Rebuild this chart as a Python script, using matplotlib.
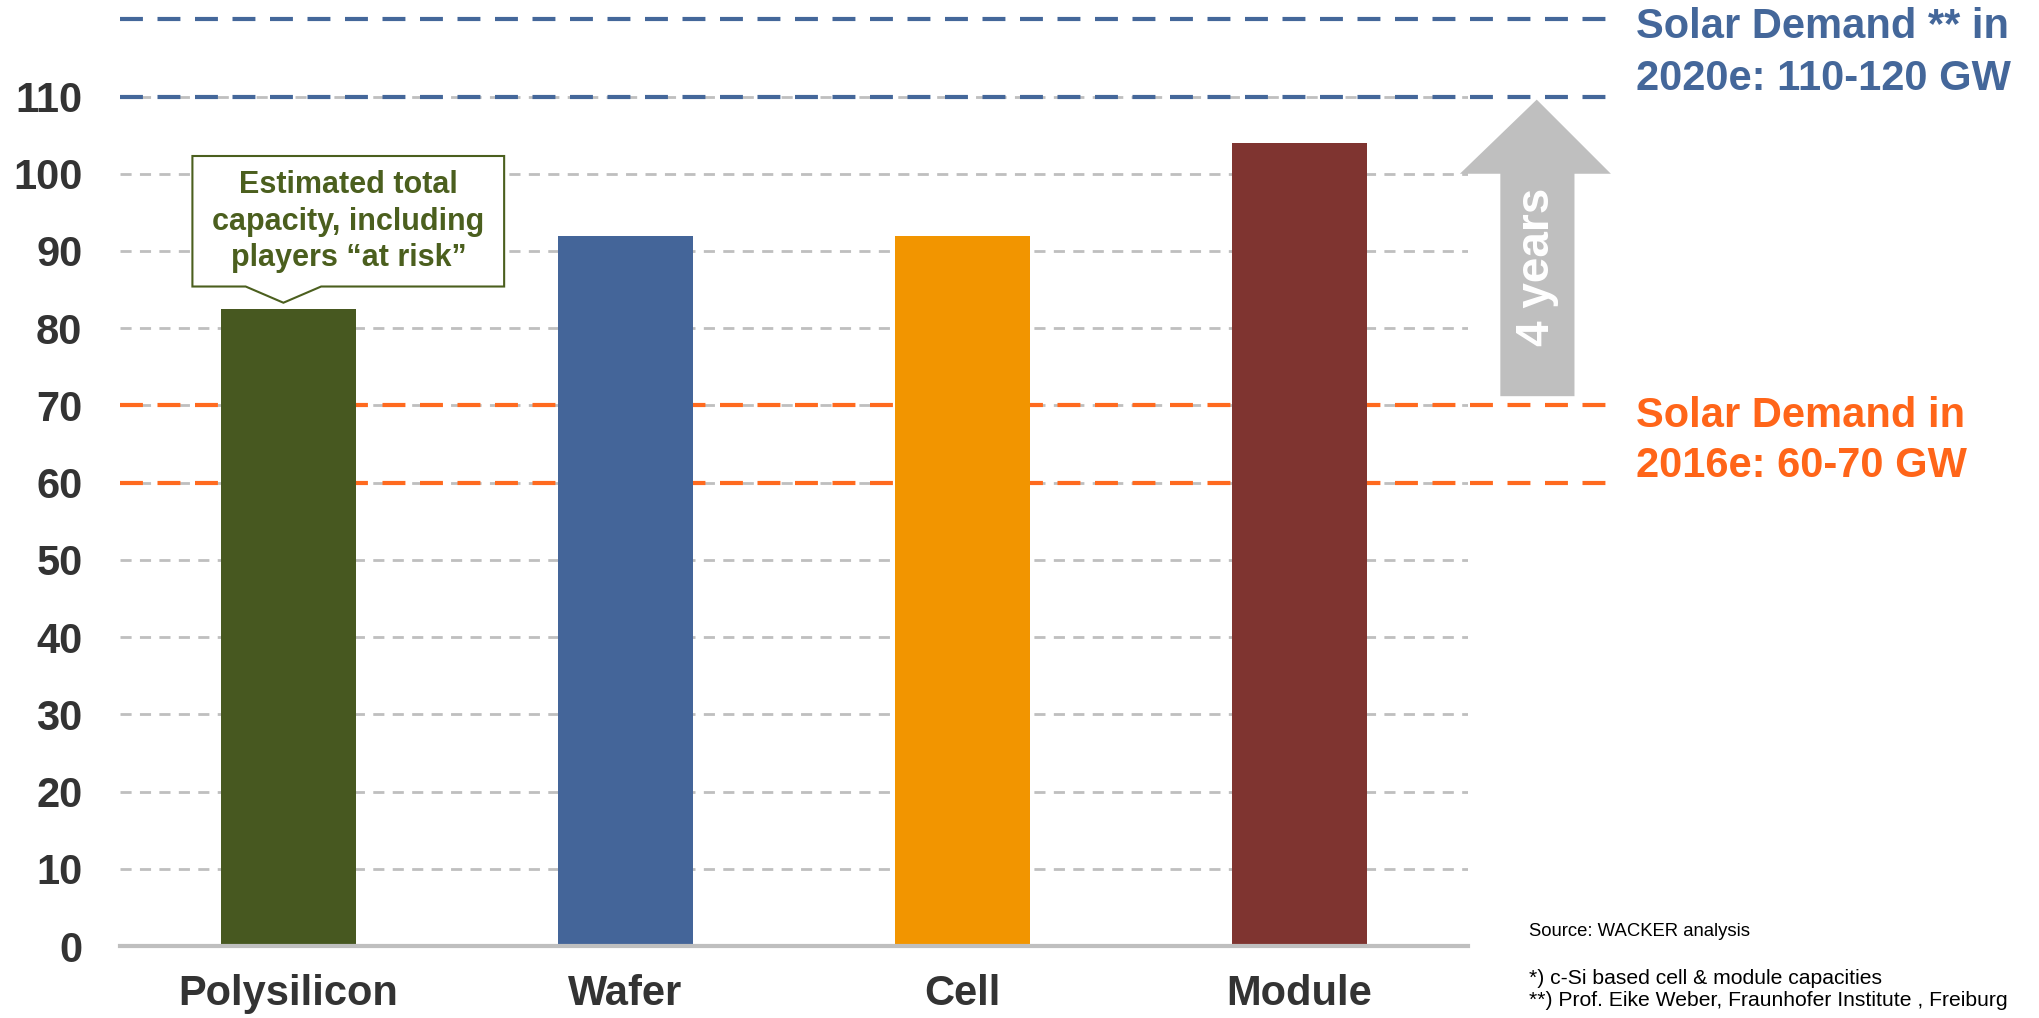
import matplotlib.pyplot as plt
from matplotlib.patches import Polygon

# data
stages = ['Polysilicon', 'Wafer', 'Cell', 'Module']
capacity = [82.5, 92, 92, 104]
bar_colors = ['#475820', '#446599', '#F29500', '#7F3430']
yticks = [0, 10, 20, 30, 40, 50, 60, 70, 80, 90, 100, 110]
demand_2016 = [60, 70]
demand_2020 = [110, 120]

FONT = ['Liberation Sans', 'DejaVu Sans']
plt.rcParams['font.family'] = FONT

fig = plt.figure(figsize=(20.4, 10.18), dpi=100)
ax = fig.add_axes([0.0588, 0.0707, 0.6608, 0.9293])

x = range(len(stages))
ax.bar(x, capacity, width=0.40, color=bar_colors, zorder=3)

ax.set_xlim(-0.5, 3.5)
ax.set_ylim(0, 122.5)
ax.set_yticks(yticks)
ax.set_xticks(list(x))
ax.set_xticklabels(stages)
ax.tick_params(axis='both', length=0, labelsize=30, colors='#333333')
ax.tick_params(axis='y', pad=27)
ax.tick_params(axis='x', pad=20)
for lab in ax.get_xticklabels() + ax.get_yticklabels():
    lab.set_fontweight('bold')

ax.grid(axis='y', color='#BFBFBF', linestyle=(0, (4, 3)), linewidth=2, zorder=0)
for s in ['top', 'right', 'left']:
    ax.spines[s].set_visible(False)
ax.spines['bottom'].set_color('#BFBFBF')
ax.spines['bottom'].set_linewidth(3)
ax.spines['bottom'].set_zorder(4)

# demand lines, run past the plot area
tr = ax.get_yaxis_transform()
for v in demand_2016:
    ax.plot([0, 1.108], [v, v], transform=tr, color='#FF6A1F', lw=3,
            linestyle=(0, (5.5, 3.5)), clip_on=False, zorder=2)
for v in demand_2020:
    ax.plot([0, 1.108], [v, v], transform=tr, color='#44679A', lw=3,
            linestyle=(0, (5.5, 3.5)), clip_on=False, zorder=2)

for txt, yv in [('Solar Demand ** in', 117.6), ('2020e: 110-120 GW', 110.9)]:
    ax.text(1.125, yv, txt, transform=tr, color='#44679A', fontsize=30,
            fontweight='bold', va='baseline', ha='left')
for txt, yv in [('Solar Demand in', 67.2), ('2016e: 60-70 GW', 60.75)]:
    ax.text(1.125, yv, txt, transform=tr, color='#FF6519', fontsize=30,
            fontweight='bold', va='baseline', ha='left')

# "4 years" arrow
arrow = Polygon([(1.024, 71.2), (1.079, 71.2), (1.079, 100), (1.106, 100),
                 (1.051, 109.6), (0.994, 100), (1.024, 100)],
                closed=True, transform=tr, facecolor='#BFBFBF',
                edgecolor='none', clip_on=False, zorder=3)
ax.add_patch(arrow)
ax.text(1.051, 88, '4 years', transform=tr, rotation=90, color='white',
        fontsize=33, fontweight='bold', ha='center', va='center', zorder=4)

# callout on polysilicon bar
callout = Polygon([(-0.285, 85.4), (-0.127, 85.4), (-0.015, 83.3),
                   (0.097, 85.4), (0.64, 85.4), (0.64, 102.3),
                   (-0.285, 102.3)], closed=True, facecolor='white',
                  edgecolor='#4B5F1E', lw=1.5, zorder=5)
ax.add_patch(callout)
ax.text(0.178, 93.8, 'Estimated total\ncapacity, including\nplayers \u201cat risk\u201d',
        color='#4B5F1E', fontsize=22, fontweight='bold', ha='center',
        va='center', linespacing=1.28, zorder=6)

# footnotes
fig.text(0.7495, 1 - 932 / 1018, 'Source: WACKER analysis', fontsize=13.3,
         va='center', ha='left')
fig.text(0.7495, 1 - 978 / 1018, '*) c-Si based cell & module capacities',
         fontsize=15.2, va='center', ha='left')
fig.text(0.7495, 1 - 1000 / 1018,
         '**) Prof. Eike Weber, Fraunhofer Institute , Freiburg',
         fontsize=15.2, va='center', ha='left')

fig.savefig('out.png', dpi=100)
